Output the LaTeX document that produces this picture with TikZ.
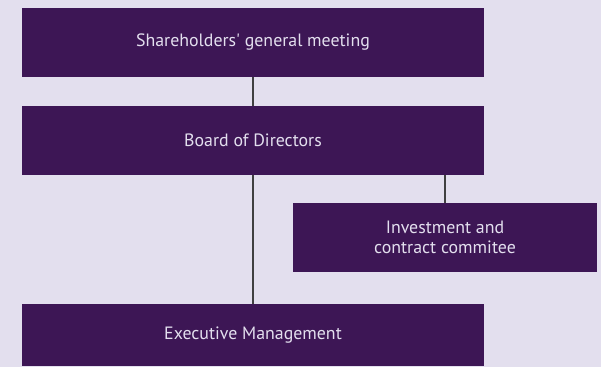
\documentclass[tikz,border=0pt]{standalone}
\usepackage{fontspec}
\setmainfont{PT Sans}
\usetikzlibrary{positioning, calc}

\definecolor{bgcol}{HTML}{E3DFEE}
\definecolor{boxcol}{HTML}{3D1655}

\begin{document}
\begin{tikzpicture}[
	orgbox/.style={fill=boxcol, text=bgcol, align=center, inner sep=0pt,
		minimum width=11.55cm, minimum height=1.725cm, font=\fontsize{12.7}{14.5}\selectfont},
	link/.style={draw=black!75, line width=0.75pt}]
	% Background
	\fill[bgcol] (0,0) rectangle (15.025,9.175);
	\useasboundingbox (0,0) rectangle (15.025,9.175);
	
	\node[orgbox] (meeting) at (6.325,8.1125) {Shareholders\textquotesingle{} general meeting};
	\node[orgbox] (board) at (6.325,5.6625) {Board of Directors};
	\node[orgbox, minimum width=7.6cm] (committee) at (11.125,3.2375) {Investment and\\contract commitee};
	\node[orgbox, minimum height=1.55cm] (exec) at (6.325,0.8) {Executive Management};
	
	% Draw connectors
	\draw[link] (meeting) -- (board);
	\draw[link] (board) -- (exec);
	\draw[link] (committee.north |- board.south) -- (committee);
\end{tikzpicture}
\end{document}
